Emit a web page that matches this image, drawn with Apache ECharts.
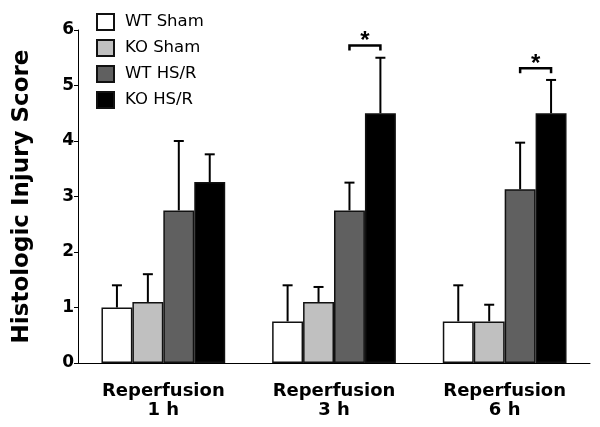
<!DOCTYPE html>
<html>
<head>
<meta charset="utf-8">
<script src="https://cdn.jsdelivr.net/npm/echarts@6/dist/echarts.min.js"></script>
<style>
html,body{margin:0;padding:0;background:#fff;}
#chart{width:600px;height:427px;}
</style>
</head>
<body>
<div id="chart"></div>
<script>
// ---- data ----
var categories = ['Reperfusion\n1 h', 'Reperfusion\n3 h', 'Reperfusion\n6 h'];
var seriesNames = ['WT Sham', 'KO Sham', 'WT HS/R', 'KO HS/R'];
var wtSham   = [1.0, 0.75, 0.75];
var wtShamSD = [0.4, 0.65, 0.65];
var koSham   = [1.1, 1.1, 0.75];
var koShamSD = [0.5, 0.27, 0.3];
var wtHSR    = [2.75, 2.75, 3.13];
var wtHSRSD  = [1.25, 0.5, 0.84];
var koHSR    = [3.26, 4.5, 4.5];
var koHSRSD  = [0.5, 1.0, 0.6];
var yTicks = [0, 1, 2, 3, 4, 5, 6];
var sigGroups = [1, 2];
var sigLevels = [5.72, 5.31];
var sigLabel = '*';

var colors = ['#ffffff', '#c0c0c0', '#606060', '#000000'];
var GAP = 0.275;
var values = [wtSham, koSham, wtHSR, koHSR];
var sds = [wtShamSD, koShamSD, wtHSRSD, koHSRSD];

var errData = [];
for (var s = 0; s < values.length; s++) {
  for (var c = 0; c < categories.length; c++) {
    errData.push([c, s, values[s][c], sds[s][c]]);
  }
}
var sigData = sigGroups.map(function (g, i) { return [g, sigLevels[i]]; });

function barCenter(api, c, s) {
  var band = api.size([1, 0])[0];
  var gw = band * (1 - GAP);
  var bw = gw / 4;
  return api.coord([c, 0])[0] - gw / 2 + bw * (s + 0.5);
}

var series = seriesNames.map(function (name, i) {
  return {
    name: name,
    type: 'bar',
    data: values[i],
    barGap: '0%',
    barCategoryGap: (GAP * 100) + '%',
    itemStyle: { color: colors[i], borderColor: '#111', borderWidth: 1.5 },
    emphasis: { disabled: true },
    z: 2
  };
});

series.push({
  type: 'custom',
  data: errData,
  z: 3,
  renderItem: function (params, api) {
    var c = api.value(0), s = api.value(1), v = api.value(2), sd = api.value(3);
    var x = barCenter(api, c, s);
    var yb = api.coord([c, v])[1];
    var yt = api.coord([c, v + sd])[1];
    var st = { stroke: '#000', lineWidth: 2 };
    return {
      type: 'group',
      children: [
        { type: 'line', shape: { x1: x, y1: yb, x2: x, y2: yt }, style: st },
        { type: 'line', shape: { x1: x - 5, y1: yt, x2: x + 5, y2: yt }, style: st }
      ]
    };
  }
});

series.push({
  type: 'custom',
  data: sigData,
  z: 4,
  renderItem: function (params, api) {
    var c = api.value(0), lv = api.value(1);
    var x1 = barCenter(api, c, 2);
    var x2 = barCenter(api, c, 3);
    var y = api.coord([c, lv])[1];
    return {
      type: 'group',
      children: [
        { type: 'polyline', shape: { points: [[x1, y + 5], [x1, y], [x2, y], [x2, y + 5]] },
          style: { stroke: '#000', lineWidth: 2.5, fill: null } },
        { type: 'text', style: { text: sigLabel, x: (x1 + x2) / 2, y: y - 4, align: 'center', verticalAlign: 'middle',
          font: 'bold 24px "Liberation Sans", Arial, sans-serif', fill: '#000' } }
      ]
    };
  }
});

var chart = echarts.init(document.getElementById('chart'), null, { renderer: 'canvas' });
chart.setOption({
  animation: false,
  backgroundColor: '#fff',
  grid: { left: 78, right: 10, top: 30, bottom: 64 },
  legend: {
    data: seriesNames,
    orient: 'vertical',
    left: 91,
    top: 8,
    icon: 'rect',
    itemWidth: 17,
    itemHeight: 16,
    itemGap: 8,
    selectedMode: false,
    itemStyle: { borderWidth: 2, borderColor: '#111' },
    textStyle: { fontFamily: 'DejaVu Sans', fontSize: 16.5, lineHeight: 16, color: '#000', padding: [0, 0, 0, 6] }
  },
  xAxis: {
    type: 'category',
    data: categories,
    axisLine: { lineStyle: { color: '#000', width: 1 } },
    axisTick: { show: false },
    axisLabel: { margin: 19, fontFamily: 'DejaVu Sans', fontWeight: 'bold', fontSize: 18, lineHeight: 19, color: '#000' }
  },
  yAxis: {
    type: 'value',
    min: yTicks[0],
    max: yTicks[yTicks.length - 1],
    interval: 1,
    name: 'Histologic Injury Score',
    nameLocation: 'middle',
    nameGap: 44,
    nameTextStyle: { fontFamily: 'DejaVu Sans', fontWeight: 'bold', fontSize: 23, color: '#000' },
    axisLine: { show: true, lineStyle: { color: '#000', width: 1 } },
    axisTick: { show: true, length: 4, lineStyle: { color: '#000' } },
    splitLine: { show: false },
    axisLabel: { margin: 4, fontFamily: 'DejaVu Sans', fontWeight: 'bold', fontSize: 17, color: '#000' }
  },
  series: series
});
</script>
</body>
</html>
